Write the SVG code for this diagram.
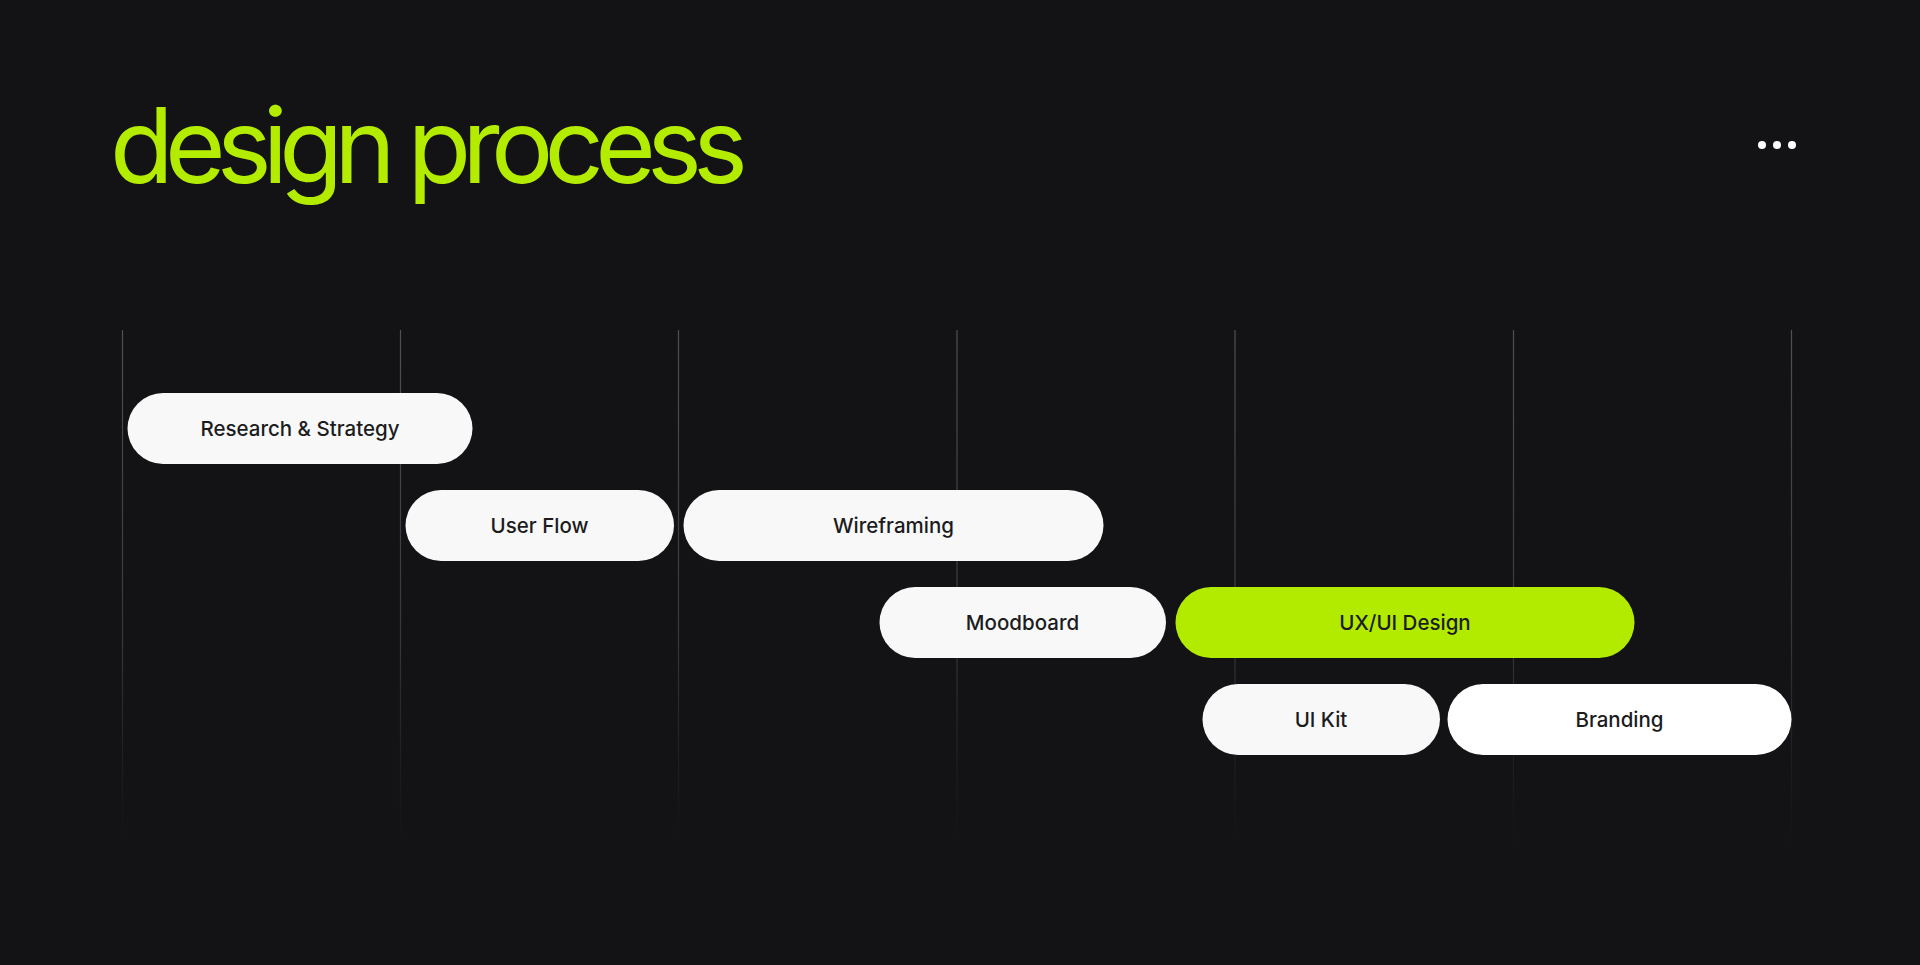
<svg xmlns="http://www.w3.org/2000/svg" width="1920" height="965" viewBox="0 0 1920 965">
<defs>
<linearGradient id="fade" x1="0" y1="330" x2="0" y2="848" gradientUnits="userSpaceOnUse">
<stop offset="0" stop-color="#505054" stop-opacity="1"/>
<stop offset="0.6" stop-color="#3c3c40" stop-opacity="0.9"/>
<stop offset="1" stop-color="#2a2a2e" stop-opacity="0"/>
</linearGradient>
</defs>
<style>
.bg{fill:#131316}
.title{font-family:"Inter","Lato","Liberation Sans",sans-serif;font-size:104px;font-weight:400;fill:#b4ec00}
.grid line{stroke:url(#fade);stroke-width:1.2}
.pill{fill:#f8f8f8}
.pill.white{fill:#ffffff}
.pill.accent{fill:#b2eb00}
.label{font-family:"Inter","Lato","Liberation Sans",sans-serif;font-size:20.5px;font-weight:500;fill:#1c1c1e;text-anchor:middle}
.dot{fill:#ffffff}
</style>
<rect class="bg" x="0" y="0" width="1920" height="965"/>
<text class="title" x="110" y="183" textLength="638" lengthAdjust="spacing">design process</text>
<g id="menu">
<circle class="dot" cx="1762" cy="145" r="4"/>
<circle class="dot" cx="1777" cy="145" r="4"/>
<circle class="dot" cx="1792" cy="145" r="4"/>
</g>
<g id="grid" class="grid">
<line x1="122.5" y1="330" x2="122.5" y2="848"/>
<line x1="400.5" y1="330" x2="400.5" y2="848"/>
<line x1="678.5" y1="330" x2="678.5" y2="848"/>
<line x1="957" y1="330" x2="957" y2="848"/>
<line x1="1235" y1="330" x2="1235" y2="848"/>
<line x1="1513.5" y1="330" x2="1513.5" y2="848"/>
<line x1="1791.5" y1="330" x2="1791.5" y2="848"/>
</g>
<g id="research">
<rect class="pill" x="127.5" y="393" width="345" height="71" rx="35.5"/>
<text class="label" x="300" y="436">Research &amp; Strategy</text>
</g>
<g id="userflow">
<rect class="pill" x="405.5" y="490" width="268.5" height="71" rx="35.5"/>
<text class="label" x="539.5" y="533">User Flow</text>
</g>
<g id="wireframing">
<rect class="pill" x="683.5" y="490" width="420" height="71" rx="35.5"/>
<text class="label" x="893.5" y="533">Wireframing</text>
</g>
<g id="moodboard">
<rect class="pill" x="879.5" y="587" width="286.5" height="71" rx="35.5"/>
<text class="label" x="1022.5" y="630">Moodboard</text>
</g>
<g id="uxui">
<rect class="pill accent" x="1175.5" y="587" width="459" height="71" rx="35.5"/>
<text class="label" x="1405" y="630">UX/UI Design</text>
</g>
<g id="uikit">
<rect class="pill" x="1202.5" y="684" width="237.5" height="71" rx="35.5"/>
<text class="label" x="1321" y="727">UI Kit</text>
</g>
<g id="branding">
<rect class="pill white" x="1447.5" y="684" width="344" height="71" rx="35.5"/>
<text class="label" x="1619.5" y="727">Branding</text>
</g>
<g id="connectors"/>
</svg>
